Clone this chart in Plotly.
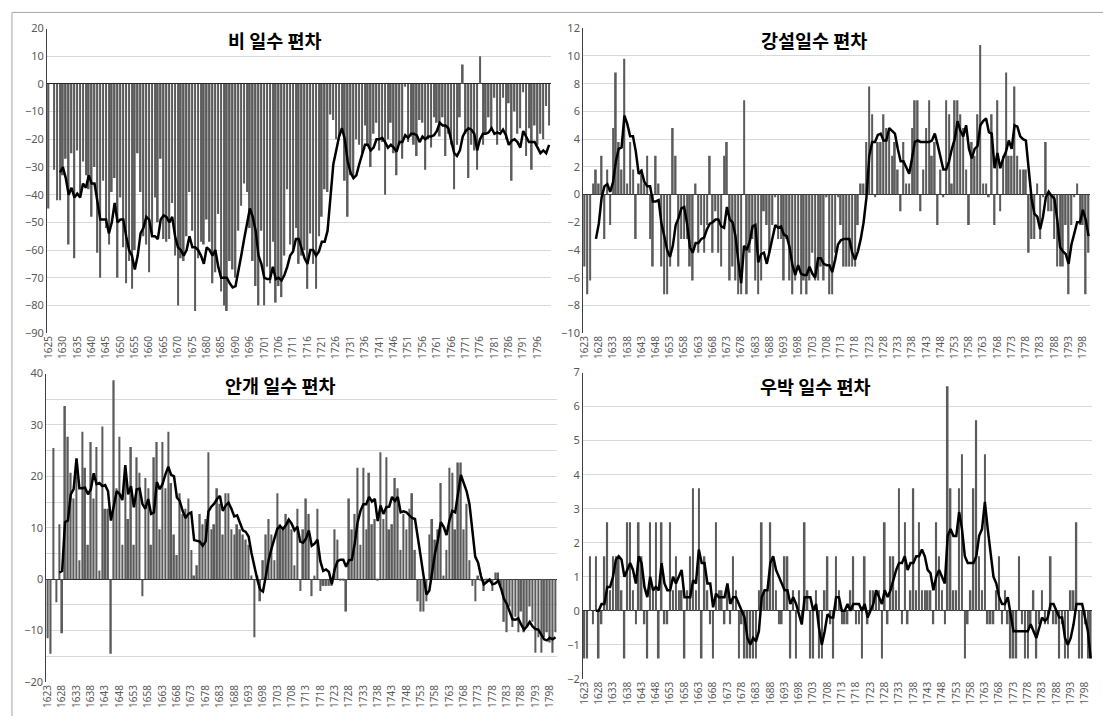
import plotly.graph_objects as go

# ---------------- DATA ----------------
years_rain = [str(y) for y in list(range(1625, 1692)) + list(range(1693, 1801))]
years_all = [str(y) for y in range(1623, 1801)]

rain_dev = [
    -45, 0, -31, -42, -42, -33, -27, -58, -25, -63, -24, -40, -28, -33, -38, -48, -30, -61, -70, -35,
    -52, -58, -39, -34, -70, -41, -59, -72, -64, -74, -60, -25, -39, -55, -58, -68, -55, -41, -50, -27,
    -56, -57, -56, -43, -62, -80, -63, -64, -55, -39, -53, -82, -63, -57, -58, -49, -57, -72, -68, -47,
    -75, -80, -82, -64, -67, -70, -53, -44, -36, -39, -52, -64, -73, -80, -53, -80, -66, -72, -57, -79,
    -73, -77, -62, -38, -58, -60, -52, -65, -62, -60, -74, -54, -65, -74, -55, -48, -38, -39, -11, -13,
    -20, -19, -17, -35, -48, -33, -34, -20, -22, -25, -15, -22, -30, -18, -14, -24, -21, -40, -20, -14,
    -25, -33, -22, -27, -1, -21, -19, -22, -26, -13, -14, -31, -20, -23, -12, -14, -19, -12, -26, -18,
    -22, -38, -22, -12, 7, -18, -34, -22, -24, -31, 10, -22, -18, -12, -16, -5, -22, -17, -5, -20,
    -7, -35, -10, -18, -16, -3, -26, -16, -31, -15, -22, -18, -20, -8, -15,
]
rain_ma = [None] * 4 + [
    -32, -30, -34, -40, -37.5, -41, -39.6, -41, -36, -37.5, -33, -36, -36, -43, -49, -49, -49, -54, -50, -43,
    -50, -49, -49, -55, -60, -62, -67, -62, -54, -52, -48, -49, -55, -55, -56, -49, -47.5, -48, -50, -48,
    -55, -59, -60, -62, -60, -55, -59, -59, -60, -62, -65, -59, -60, -62, -60, -66, -70, -70, -70, -72,
    -73.5, -73, -68, -62, -56, -50, -45, -48, -53, -62, -65, -70, -70.5, -70.5, -66, -70.5, -70, -71, -69, -66,
    -62, -60.5, -56, -56, -60, -63, -65, -60, -60, -62, -60.5, -57, -57, -53, -41, -29, -24, -19, -16, -20,
    -28, -32, -34, -33, -29, -25, -22, -22, -24, -23, -20, -20, -19.5, -21, -23, -22, -23, -24.5, -21, -21,
    -18.5, -19.5, -18, -18, -18.5, -21, -19, -20, -19, -19, -18.5, -17, -14, -15, -15, -16, -20, -25, -26, -24,
    -19, -17, -16, -16.5, -18, -24, -20, -18, -18, -17.5, -16, -18, -17.5, -18, -16.5, -18.5, -22, -20.5, -20, -21,
    -23, -17, -19, -21, -21, -21, -23, -25, -24, -25, -22,
]

snow_dev = [
    -5.2, -7.2, -6.2, 0.8, 1.8, 0.8, 2.8, -3.2, 1.8, -2.2, 4.8, 8.8, 3.8, 1.8, 9.8, 0.8, 3.8, 1.8, -3.2, 0.8,
    1.8, 0.8, 2.8, -3.2, -5.2, 2.8, 0.8, -5.2, -7.2, -7.2, -5.2, 4.8, 2.8, -5.2, -3.2, -3.2, -3.2, -5.2, -6.2, 0.8,
    -4.2, -2.2, -4.2, -2.2, 2.8, -4.2, -1.2, -4.2, -5.2, 2.8, 3.8, -6.2, -5.2, -6.2, -7.2, -7.2, 6.8, -7.2, -4.2, -3.2,
    -6.2, -7.2, -6.2, -1.2, -2.2, -4.2, -2.2, -0.2, -3.2, -3.2, -6.2, -3.2, -6.2, -7.2, -6.2, -5.2, -7.2, -6.2, -7.2, -6.2,
    -4.2, -6.2, -6.2, -5.2, -6.2, -0.2, -7.2, -7.2, -4.2, -0.2, -2.2, -5.2, -5.2, -5.2, -5.2, -5.2, -2.2, 0.8, 0.8, 3.8,
    7.8, 5.8, -0.2, 3.8, 3.8, 5.8, 4.8, 4.8, 2.8, 3.8, 1.8, -1.2, 3.8, 0.8, 0.8, 4.8, 6.8, 6.8, -1.2, 1.8,
    4.8, 6.8, 2.8, 3.8, -2.2, 1.8, -0.2, 6.8, 5.8, 0.8, 6.8, 6.8, 5.8, 4.8, 1.8, -2.2, 3.8, 2.8, 5.8, 10.8,
    0.8, 0.8, -0.2, 5.8, -2.2, 6.8, -1.2, 2.8, 8.8, 2.8, 2.8, 7.8, 2.8, 1.8, 1.8, 1.8, -4.2, -3.2, -3.2, 0.8,
    -3.2, -0.2, 3.8, -1.2, -1.2, -3.2, -5.2, -5.2, -5.2, -2.2, -7.2, -2.2, -0.2, 0.8, -2.2, -2.2, -7.2, -4.2,
]
snow_ma = [None] * 4 + [
    -3.2, -2.1, -0.2, 0.6, 0.75, 0.2, 0.9, 2.4, 3.3, 3.4, 5.7, 5.1, 4.2, 4.2, 3.1, 1.5, 1.7, 0.9, 0.6, 0.6,
    -0.5, -0.5, -0.4, -2.1, -3.0, -4.0, -4.5, -3.7, -2.2, -1.7, -1.0, -0.9, -2.1, -3.8, -4.2, -3.5, -3.5, -3.2, -3.1, -2.5,
    -2.1, -2.0, -1.8, -1.8, -2.3, -2.4, -0.9, -1.8, -2.0, -3.0, -4.8, -6.4, -3.7, -4.0, -3.4, -2.3, -2.2, -4.9, -4.3, -4.2,
    -5.0, -4.1, -3.2, -2.2, -2.4, -2.3, -2.9, -3.0, -3.8, -5.1, -5.8, -5.1, -5.7, -5.8, -5.8, -5.2, -5.7, -6.0, -4.6, -4.6,
    -5.0, -5.1, -5.1, -5.6, -4.7, -3.6, -3.3, -3.2, -3.2, -3.2, -4.2, -4.7, -4.1, -3.2, -2.0, -0.2, 2.8, 3.8, 3.8, 4.3,
    4.4, 3.9, 3.9, 4.8, 4.6, 4.4, 3.3, 2.4, 2.4, 1.9, 1.5, 2.6, 3.8, 3.9, 3.8, 3.8, 3.8, 3.8, 3.9, 4.4,
    3.6, 2.8, 1.8, 1.8, 2.4, 3.3, 4.0, 5.3, 4.6, 4.2, 5.0, 3.3, 2.6, 3.3, 3.5, 5.0, 5.3, 5.5, 4.5, 4.4,
    1.9, 3.0, 1.9, 2.6, 3.1, 3.9, 3.3, 5.0, 4.9, 4.2, 4.0, 3.9, 1.9, -0.3, -1.4, -1.6, -2.5, -1.6, -0.2, 0.2,
    -0.1, -0.3, -1.8, -3.8, -4.1, -4.3, -5.0, -3.6, -2.8, -2.0, -2.0, -1.1, -1.8, -3.0,
]

fog_dev = [
    -11.5, -14.5, 25.5, -4.5, 10.7, -10.5, 33.7, 27.7, 20.7, 15.7, 21.7, 3.7, 28.7, 21.7, 6.7, 26.7, 15.7, 25.7, 1.7, 29.7,
    13.7, 13.7, -14.5, 38.7, 17.7, 27.7, 6.7, 21.7, 11.7, 25.7, 6.7, 23.7, 20.7, -3.3, 19.7, 17.7, 6.7, 23.7, 26.7, 9.7,
    26.7, 17.7, 28.7, 18.7, 8.7, 4.7, 16.7, 12.7, 13.7, 15.7, 5.7, 0.7, 2.7, 12.7, 10.7, 11.7, 24.7, 9.7, 10.7, 17.7,
    14.7, 8.7, 16.7, 16.7, 9.7, 8.7, 10.7, 9.7, 8.7, 7.7, 6.7, 0.7, -11.3, 0.7, -4.3, 3.7, 8.7, 11.7, 8.7, 3.7,
    16.7, 10.7, 9.7, 12.7, 11.7, 9.7, 2.7, 13.7, -2.3, 9.7, 15.7, 12.7, -3.3, 0.7, 13.7, -2.3, -1.3, -1.3, -1.3, -1.3,
    9.7, 7.7, -0.3, -0.3, -6.3, 15.7, 9.7, 12.7, 21.7, 6.7, 21.7, 9.7, 20.7, 10.7, 11.7, -0.3, 24.7, 11.7, 23.7, 9.7,
    10.7, 19.7, 17.7, 5.7, 12.7, 9.7, 13.7, 16.7, 5.7, -4.3, -6.3, -6.3, -4.3, 8.7, 11.7, 7.7, 9.7, 18.7, 0.7, 5.7,
    21.7, 20.7, 9.7, 22.7, 22.7, 9.7, 14.7, 3.7, -1.3, -4.3, 0.7, -0.3, -2.3, -0.3, -0.3, -2.3, 1.3, 1.3, -1.3, -8.3,
    -10.3, -5.3, -9.3, -7.3, -10.3, -6.3, -10.3, -9.3, -5.3, -8.3, -14.3, -11.3, -14.3, -11.3, -10.3, -12.3, -14.3, -10.3,
]
fog_ma = [None] * 4 + [
    1.3, 1.6, 11.1, 11.4, 16.5, 17.5, 23.5, 17.7, 17.7, 17.8, 16.5, 17.5, 20.6, 18.5, 18.7, 18.1, 18.3, 17.1, 11.4, 14.6,
    17.1, 16.6, 15.4, 22.2, 16.5, 18.1, 14.0, 17.5, 17.6, 14.6, 13.7, 15.6, 12.7, 13.0, 18.9, 17.5, 18.5, 20.4, 21.9, 20.3,
    20.0, 15.9, 15.2, 13.3, 11.9, 12.7, 13.0, 7.6, 7.4, 7.3, 6.5, 7.3, 13.2, 14.1, 14.7, 15.6, 16.2, 13.3, 14.3, 14.9,
    13.7, 12.2, 12.4, 10.8, 9.5, 9.2, 8.3, 5.1, 2.2, 0.0, -2.0, -2.4, 0.6, 3.8, 6.0, 7.9, 9.8, 10.3, 9.8, 10.5,
    11.6, 10.8, 9.5, 10.2, 7.3, 7.1, 7.9, 9.5, 6.5, 6.9, 7.7, 3.5, 1.6, 1.9, 1.4, -1.0, 1.9, 3.5, 3.8, 3.8,
    2.4, 3.7, 3.8, 7.0, 11.1, 13.3, 14.6, 14.6, 16.0, 15.1, 15.6, 11.3, 14.3, 12.7, 14.0, 14.1, 16.0, 15.2, 16.0, 13.0,
    13.2, 13.0, 12.4, 11.9, 11.7, 8.3, 4.4, 0.6, -3.0, -2.2, 1.9, 5.1, 7.6, 11.1, 10.2, 8.6, 11.4, 13.3, 13.0, 17.1,
    20.3, 18.7, 17.1, 14.6, 9.5, 4.4, 3.2, 0.6, -1.0, -0.6, -0.1, -1.0, -0.8, -0.3, -1.8, -3.8, -4.8, -6.3, -7.8, -7.9,
    -7.6, -8.8, -9.8, -9.2, -8.3, -9.2, -9.7, -9.8, -10.8, -11.7, -11.9, -11.4, -11.7, -11.3,
]

hail_dev = [
    -1.4, -1.4, 1.6, -0.4, 1.6, -1.4, -0.4, 1.6, 2.6, 0.6, 1.6, 1.6, 1.6, 0.6, -1.4, 2.6, 2.6, 0.6, -0.4, 2.6,
    1.6, -0.4, -1.4, 2.6, 0.6, 2.6, -1.4, 2.6, -0.4, -0.4, 2.6, 0.6, 1.6, 0.6, 0.6, -1.4, 0.6, 1.6, 3.6, 0.6,
    3.6, -1.4, 1.6, 0.6, -0.4, -1.4, 2.6, 0.6, 0.6, -0.4, 0.6, -0.4, 1.6, 0.6, -1.4, -0.4, -1.4, -1.4, -1.4, -1.4,
    -1.4, 0.6, 2.6, 0.6, 0.6, 2.6, 1.6, 0.6, -0.4, -0.4, 1.6, 1.6, -1.4, 0.6, -1.4, 0.6, -0.4, 2.6, 0.6, -1.4,
    -1.4, 0.6, -1.4, -1.4, 0.6, 1.6, -0.4, -1.4, 1.6, 0.6, -0.4, -0.4, -0.4, 0.6, 1.6, -0.4, -0.4, -1.4, 1.6, -0.4,
    0.6, 0.6, 0.6, 0.6, -1.4, 2.6, -0.4, 1.6, 1.6, 0.6, 3.6, -0.4, 2.6, -0.4, 0.6, 3.6, 0.6, 2.6, 0.6, 0.6,
    0.6, 0.6, -0.4, 2.6, 1.6, 0.6, -0.4, 6.6, 3.6, 0.6, 0.6, 3.6, 4.6, -1.4, -0.4, 0.6, 3.6, 5.6, 1.6, 0.6,
    4.6, -0.4, -0.4, -0.4, 0.6, 1.6, -0.4, 0.6, -0.4, -1.4, -1.4, -1.4, 1.6, -0.4, -1.4, -1.4, -0.4, 0.6, -1.4, -0.4,
    0.6, -0.4, -0.4, 1.6, -0.4, -0.4, -1.4, -0.4, -1.4, -1.4, 0.6, 0.6, 2.6, -1.4, -1.4, -0.4, -1.4, -1.4,
]
hail_ma = [None] * 4 + [
    0.0, 0.0, 0.2, 0.2, 0.7, 0.7, 1.0, 1.5, 1.6, 1.5, 1.0, 1.2, 1.4, 1.2, 0.8, 1.6, 1.4, 0.7, 0.4, 1.0,
    0.6, 0.7, 0.6, 1.4, 0.8, 0.6, 0.6, 1.0, 0.8, 1.0, 1.2, 0.4, 0.4, 0.4, 0.9, 0.8, 1.8, 1.4, 1.4, 0.8,
    0.8, 0.1, 0.5, 0.4, 0.4, 0.4, 0.8, 0.2, 0.4, 0.4, 0.2, 0.0, -0.2, -0.8, -1.0, -0.8, -0.9, -0.6, 0.4, 0.6,
    0.6, 1.4, 1.6, 1.2, 1.0, 0.8, 0.6, 0.6, 0.2, 0.4, 0.2, -0.1, -0.4, 0.4, 0.4, 0.4, 0.0, 0.2, -0.5, -1.0,
    -0.6, -0.1, -0.2, -0.2, 0.4, 0.4, 0.0, 0.0, 0.2, 0.0, 0.2, 0.2, 0.2, 0.0, 0.2, -0.2, 0.0, 0.2, 0.6, 0.4,
    0.2, 0.6, 0.4, 0.6, 0.9, 1.2, 1.4, 1.4, 1.6, 1.2, 1.4, 1.4, 1.6, 1.6, 1.8, 1.6, 1.2, 1.1, 0.6, 1.0,
    1.2, 1.0, 0.8, 2.2, 2.4, 2.2, 2.2, 2.9, 2.4, 1.6, 1.4, 1.4, 1.4, 1.6, 2.2, 2.4, 3.2, 2.4, 1.7, 1.0,
    0.8, 0.4, 0.2, 0.2, 0.4, -0.1, -0.6, -0.6, -0.6, -0.6, -0.6, -0.6, -0.4, -0.6, -0.8, -0.5, -0.2, -0.3, -0.2, 0.2,
    0.2, 0.0, -0.2, -0.2, -0.8, -1.0, -0.8, -0.4, 0.2, 0.2, 0.2, -0.2, -0.6, -1.4,
]

titles = ["비 일수 편차", "강설일수 편차", "안개 일수 편차", "우박 일수 편차"]
y_ranges = [(-90, 20, 10), (-10, 12, 2), (-20, 40, 10), (-2, 7, 1)]

# ---------------- LAYOUT ----------------
W, H = 1103, 723
# plot rectangles in pixels: (left, right, top, bottom)
rects = [
    (41.3, 547.5, 21.0, 332.0),
    (580.3, 1089.9, 20.7, 332.0),
    (40.6, 554.0, 373.3, 688.3),
    (580.1, 1092.1, 372.3, 685.0),
]
title_pos = [(270, 33), (812, 33), (276, 385), (814, 386)]

panels = [
    (years_rain, rain_dev, rain_ma),
    (years_all, snow_dev, snow_ma),
    (years_all, fog_dev, fog_ma),
    (years_all, hail_dev, hail_ma),
]

BAR = "#5b5b5b"
GRID = "#d9d9d9"
TICK = "#595959"

fig = go.Figure()
layout = dict(
    width=W, height=H,
    margin=dict(l=0, r=0, t=0, b=0),
    paper_bgcolor="white", plot_bgcolor="white",
    showlegend=False, bargap=0.42,
    font=dict(family="Noto Sans, Liberation Sans, sans-serif", size=10, color=TICK),
)
annotations = []
for k, ((xs, bars, ma), (l, r, t, b), (ymin, ymax, dt)) in enumerate(zip(panels, rects, y_ranges)):
    n = k + 1
    xa = "x" if n == 1 else f"x{n}"
    ya = "y" if n == 1 else f"y{n}"
    fig.add_trace(go.Bar(x=xs, y=bars, marker=dict(color=BAR, line=dict(width=0)),
                         xaxis=xa, yaxis=ya, hoverinfo="x+y"))
    fig.add_trace(go.Scatter(x=xs, y=ma, mode="lines", line=dict(color="black", width=2.5),
                             xaxis=xa, yaxis=ya, connectgaps=False, hoverinfo="skip"))
    xkey = "xaxis" if n == 1 else f"xaxis{n}"
    ykey = "yaxis" if n == 1 else f"yaxis{n}"
    layout[xkey] = dict(
        domain=[l / W, r / W], anchor=ya, type="category",
        range=[-0.5, len(xs) - 0.5], tickmode="array",
        tickvals=xs[::5], ticktext=xs[::5], tickangle=-90,
        showgrid=False, showline=False, ticks="", zeroline=False,
        tickfont=dict(size=10, color=TICK), fixedrange=True,
    )
    ydict = dict(
        domain=[1 - b / H, 1 - t / H], anchor=xa,
        range=[ymin, ymax], dtick=dt, tick0=0,
        showgrid=True, gridcolor=GRID, gridwidth=1,
        zeroline=True, zerolinecolor="#262626", zerolinewidth=1,
        showline=True, linecolor="#404040", linewidth=1, ticks="",
        tickfont=dict(size=11, color=TICK), fixedrange=True,
    )
    if k == 2:
        ydict["minor"] = dict(dtick=5, showgrid=True, gridcolor=GRID, gridwidth=1)
    layout[ykey] = ydict
    tx, ty = title_pos[k]
    annotations.append(dict(
        text=f"<b>{titles[k]}</b>", x=tx / W, y=1 - ty / H, xref="paper", yref="paper",
        xanchor="center", yanchor="middle", showarrow=False,
        font=dict(family="Noto Sans CJK KR", size=18.5, color="black"),
    ))

layout["annotations"] = annotations
layout["shapes"] = [
    dict(type="line", xref="paper", yref="paper", x0=6 / W, x1=1.0, y0=1 - 4.5 / H, y1=1 - 4.5 / H,
         line=dict(color="#a6a6a6", width=1)),
    dict(type="line", xref="paper", yref="paper", x0=6 / W, x1=6 / W, y0=0, y1=1 - 4.5 / H,
         line=dict(color="#a6a6a6", width=1)),
]
fig.update_layout(**layout)
fig.write_html("out.html")
